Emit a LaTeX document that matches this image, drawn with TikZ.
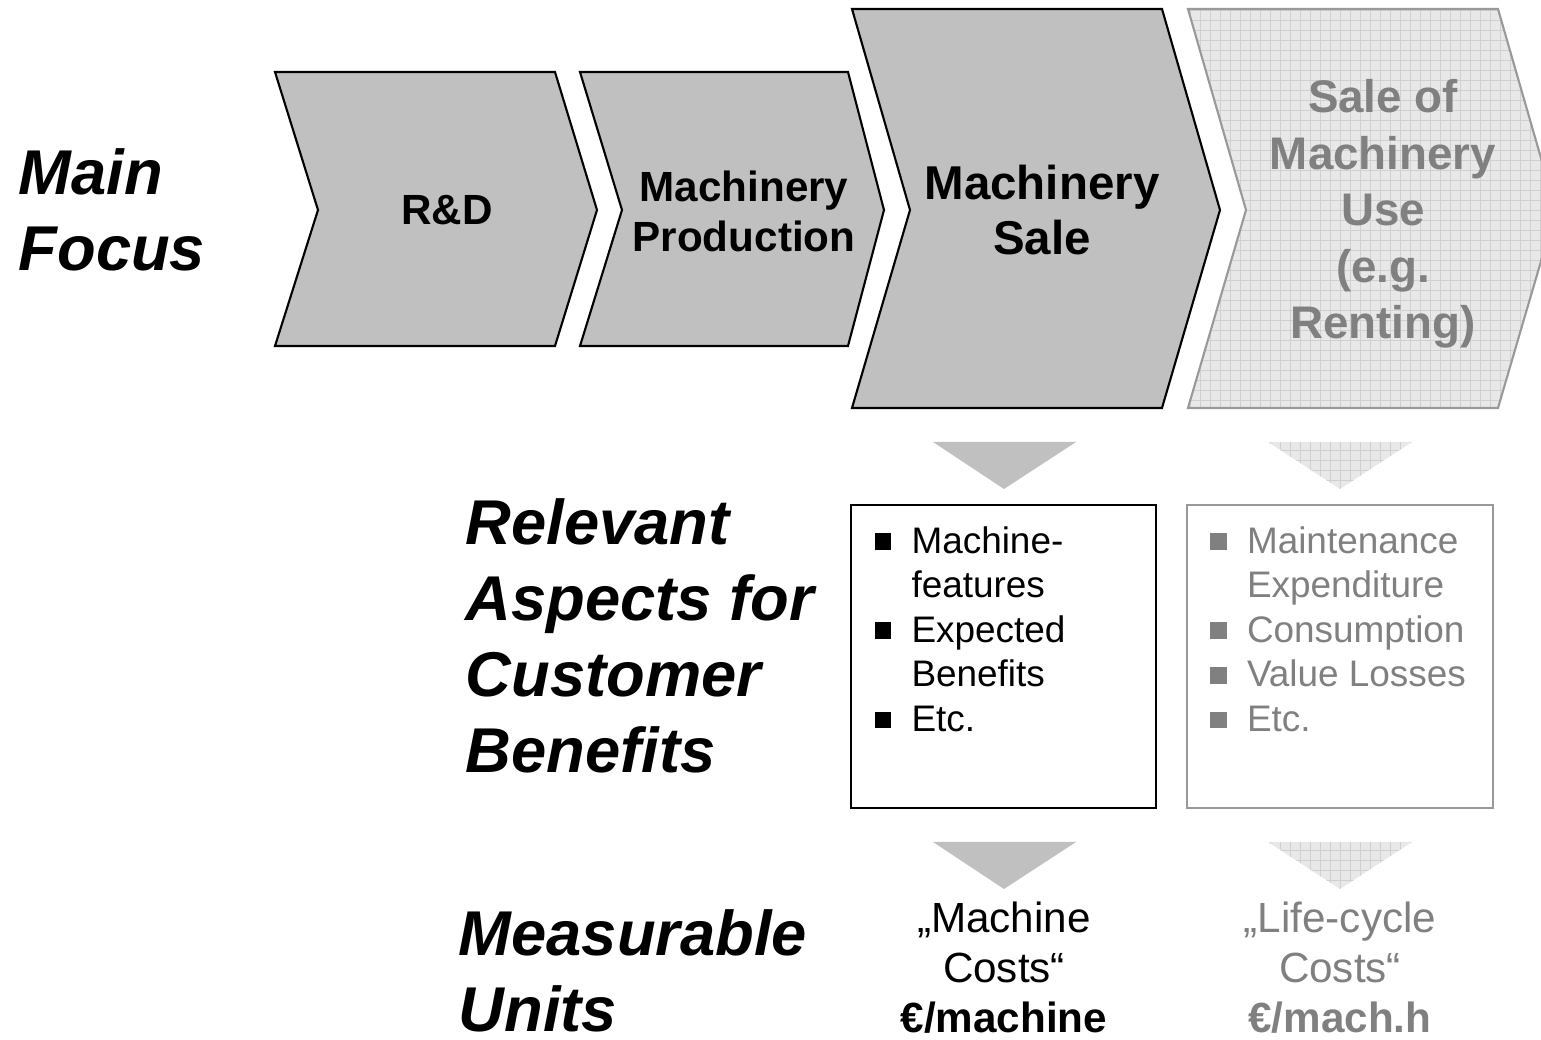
\documentclass[tikz,border=0pt]{standalone}
\usepackage{fontspec}
\setmainfont{Liberation Sans}
\usetikzlibrary{positioning}
\definecolor{stagegray}{HTML}{C0C0C0}
\definecolor{palefill}{HTML}{E8E8E8}
\definecolor{paleline}{HTML}{D0D0D0}
\definecolor{fadegray}{HTML}{808080}
\definecolor{fadeedge}{HTML}{999999}
\newcommand{\sqbullet}{\makebox[10.5pt][l]{\rule[0.85pt]{4.8pt}{4.8pt}}}
\newcommand{\sqindent}{\makebox[10.5pt]{}}
\tikzset{gridfill/.style={path picture={\draw[paleline, line width=0.25pt, step=1mm] (path picture bounding box.south west) grid (path picture bounding box.north east);}}}
\tikzset{stage/.style={fill=stagegray, draw=black, line width=0.6pt}}
\tikzset{laterstage/.style={fill=palefill, draw=fadeedge, line width=0.6pt, gridfill}}
\tikzset{stagetext/.style={align=center, inner sep=0pt}}
\tikzset{rowlabel/.style={font=\bfseries\itshape\fontsize{18}{21.6}\selectfont, align=left, anchor=west, inner sep=0pt}}
\tikzset{aspectbox/.style={draw, line width=0.6pt, minimum width=3.05cm, minimum height=3.03cm, inner sep=0pt}}
\tikzset{listtext/.style={font=\fontsize{10.5}{12.66}\selectfont, align=left, anchor=north west, inner sep=0pt}}
\tikzset{unittext/.style={font=\fontsize{12}{14.2}\selectfont, align=center, inner sep=0pt}}

\begin{document}
\begin{tikzpicture}[x=0.01cm, y=-0.01cm]
            \useasboundingbox (0,0) rectangle (1541,1040);
            % value chain
            \draw[stage] (275,72) -- (555,72) -- (597,210) -- (555,346) -- (275,346) -- (318,210) -- cycle;
            \draw[stage] (580,72) -- (848,72) -- (884,210) -- (848,346) -- (580,346) -- (622,210) -- cycle;
            \draw[stage] (852,9) -- (1162,9) -- (1220,210) -- (1162,408) -- (852,408) -- (910,210) -- cycle;
            \draw[laterstage] (1188,9) -- (1498,9) -- (1556,210) -- (1498,408) -- (1188,408) -- (1246,210) -- cycle;
            \node[stagetext, font=\bfseries\fontsize{12}{14.2}\selectfont] (rd) at (447,210) {R\&D};
            \node[stagetext, font=\bfseries\fontsize{12}{14.2}\selectfont] (prod) at (744,211) {Machinery\\Production};
            \node[stagetext, font=\bfseries\fontsize{13.5}{15.6}\selectfont] (sale) at (1042,210) {Machinery\\Sale};
            \node[stagetext, font=\bfseries\fontsize{13}{16.1}\selectfont, text=fadegray] (use) at (1383,214) {Sale of\\Machinery\\Use\\(e.g.\\Renting)};
            % row labels
            \node[rowlabel] (focus) at (18,210) {Main\\Focus};
            \node[rowlabel] (aspects) at (465,636) {Relevant\\Aspects for\\Customer\\Benefits};
            \node[rowlabel] (units) at (458,971) {Measurable\\Units};
            % down markers
            \fill[stagegray] (933,442) -- (1076,442) -- (1004,489) -- cycle;
            \fill[palefill, gridfill] (1268,442) -- (1412,442) -- (1340,489) -- cycle;
            \fill[stagegray] (933,842) -- (1076,842) -- (1004,889) -- cycle;
            \fill[palefill, gridfill] (1268,842) -- (1412,842) -- (1340,889) -- cycle;
            % aspect boxes
            \node[aspectbox] (salebox) at (1003.5,656.5) {};
            \node[aspectbox, draw=fadeedge] (usebox) at (1340,656.5) {};
            \node[listtext, below right=0.22cm and 0.24cm of salebox.north west] (salelist)
                {\sqbullet Machine-\\\sqindent features\\\sqbullet Expected\\\sqindent Benefits\\\sqbullet Etc.};
            \node[listtext, text=fadegray, below right=0.22cm and 0.23cm of usebox.north west] (uselist)
                {\sqbullet Maintenance\\\sqindent Expenditure\\\sqbullet Consumption\\\sqbullet Value Losses\\\sqbullet Etc.};
            % units
            \node[unittext] (saleunit) at (1004,968) {„Machine\\Costs“\\\textbf{€/machine}};
            \node[unittext, text=fadegray] (useunit) at (1340,968) {„Life-cycle\\Costs“\\\textbf{€/mach.h}};
        \end{tikzpicture}
\end{document}
